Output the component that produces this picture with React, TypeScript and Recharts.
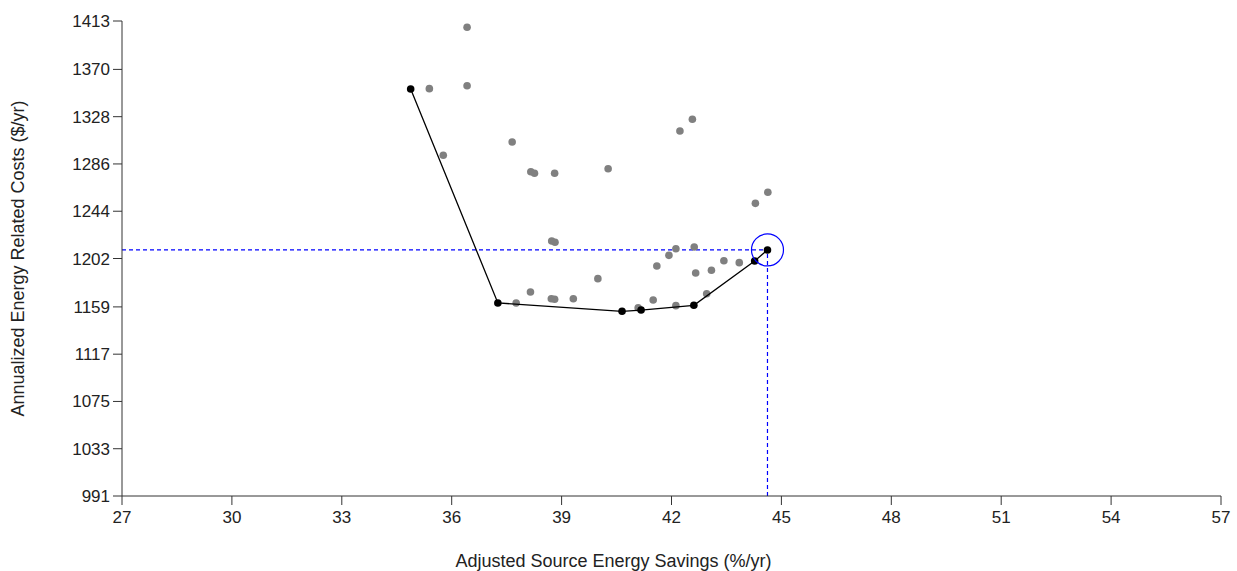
import React from 'react';
import { ScatterChart, Scatter, XAxis, YAxis, ReferenceLine, ReferenceDot } from 'recharts';

const xTicks = [27, 30, 33, 36, 39, 42, 45, 48, 51, 54, 57];
const yTicks = [991, 1033, 1075, 1117, 1159, 1202, 1244, 1286, 1328, 1370, 1413];

// all simulated options (gray)
const optionSavings = [
  36.42, 35.39, 36.42, 42.57, 42.23, 37.65, 35.77, 38.16, 38.26, 38.81, 40.27, 44.63, 44.29,
  38.73, 38.82, 42.12, 42.62, 41.93, 43.43, 43.85, 41.6, 43.09, 42.66, 39.99, 38.15, 42.96,
  38.72, 38.81, 39.32, 41.5, 37.76, 41.09, 42.12,
];
const optionCosts = [
  1407.4, 1352.9, 1355.5, 1325.7, 1315.3, 1305.5, 1293.7, 1279.1, 1277.7, 1277.7, 1281.8, 1260.8, 1251.0,
  1217.5, 1216.4, 1210.7, 1212.2, 1204.8, 1200.0, 1198.3, 1195.3, 1191.5, 1189.1, 1184.1, 1172.2, 1170.7,
  1166.3, 1165.8, 1166.3, 1165.1, 1162.5, 1158.3, 1160.1,
];

// least-cost curve (black)
const curveSavings = [34.88, 37.26, 40.65, 41.17, 42.61, 44.27, 44.62];
const curveCosts = [1352.6, 1162.5, 1155.1, 1156.2, 1160.4, 1199.8, 1209.6];

const selectedSavings = 44.62;
const selectedCost = 1209.6;

const options = optionSavings.map((x, i) => ({ x, y: optionCosts[i] }));
const curve = curveSavings.map((x, i) => ({ x, y: curveCosts[i] }));

const font = '"Liberation Sans", Arial, sans-serif';
const axisColor = '#333';
const blue = '#0000ff';

export default function App() {
  return (
    <div style={{ position: 'absolute', left: 0, top: 0 }}>
      <ScatterChart width={1237} height={571} margin={{ top: 21, right: 16, bottom: 0, left: 0 }}>
        <XAxis
          type="number"
          dataKey="x"
          domain={[27, 57]}
          ticks={xTicks}
          interval={0}
          height={75}
          stroke={axisColor}
          tickSize={9}
          tickMargin={6}
          tick={{ fill: '#222', fontSize: 17, fontFamily: font }}
          label={{
            value: 'Adjusted Source Energy Savings (%/yr)',
            position: 'insideBottom',
            offset: 4,
            dx: -58,
            style: { fill: '#222', fontSize: 18, fontFamily: font },
          }}
        />
        <YAxis
          type="number"
          dataKey="y"
          domain={[991, 1413]}
          ticks={yTicks}
          interval={0}
          width={122}
          stroke={axisColor}
          tickSize={9}
          tickMargin={3}
          tick={{ fill: '#222', fontSize: 17, fontFamily: font }}
          label={{
            value: 'Annualized Energy Related Costs ($/yr)',
            angle: -90,
            position: 'insideLeft',
            offset: 18,
            style: { fill: '#222', fontSize: 18, fontFamily: font, textAnchor: 'middle' },
          }}
        />
        <ReferenceLine
          segment={[{ x: 27, y: selectedCost }, { x: selectedSavings, y: selectedCost }]}
          stroke={blue}
          strokeWidth={1.2}
          strokeDasharray="4 3"
        />
        <ReferenceLine
          segment={[{ x: selectedSavings, y: 991 }, { x: selectedSavings, y: selectedCost }]}
          stroke={blue}
          strokeWidth={1.2}
          strokeDasharray="4 3"
        />
        <Scatter
          data={options}
          isAnimationActive={false}
          shape={(p: any) => <circle cx={p.cx} cy={p.cy} r={3.8} fill="#808080" />}
        />
        <Scatter
          data={curve}
          isAnimationActive={false}
          line={{ stroke: '#000', strokeWidth: 1.3 }}
          lineType="joint"
          shape={(p: any) => <circle cx={p.cx} cy={p.cy} r={3.8} fill="#000" />}
        />
        <ReferenceDot
          x={selectedSavings}
          y={selectedCost}
          r={16}
          fill="none"
          stroke={blue}
          strokeWidth={1.2}
        />
      </ScatterChart>
    </div>
  );
}
